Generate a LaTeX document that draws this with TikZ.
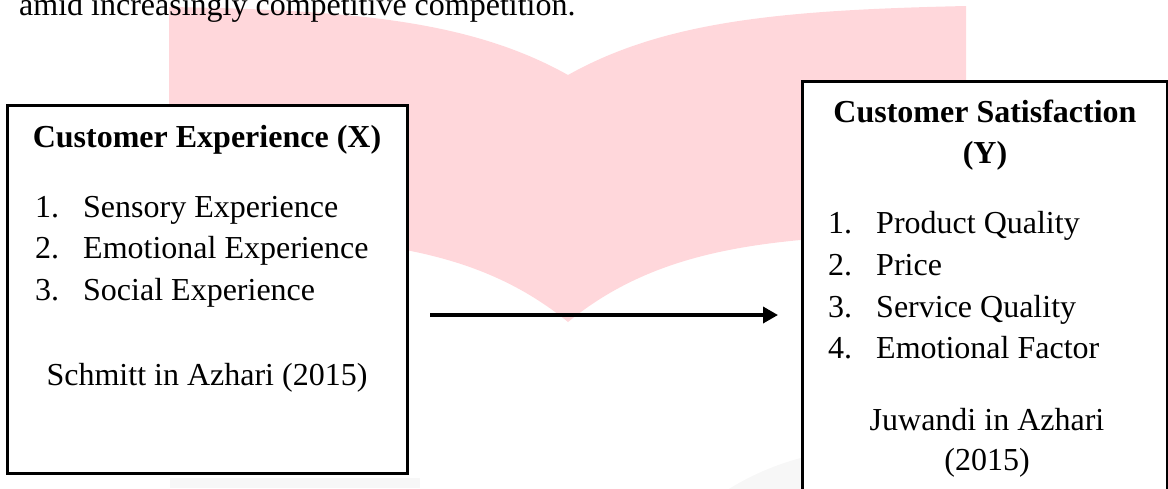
\documentclass[tikz,border=0pt]{standalone}
\usepackage{fontspec}
\setmainfont{Liberation Serif}
\usetikzlibrary{arrows.meta}
\definecolor{wm}{RGB}{255,215,219}
\definecolor{wmgray}{RGB}{247,247,247}
\begin{document}
\begin{tikzpicture}[x=1pt,y=-1pt,
  txt/.style={inner sep=0pt, anchor=base west, font=\fontsize{32}{38}\selectfont},
  ctxt/.style={inner sep=0pt, anchor=base, font=\fontsize{32}{38}\selectfont},
  hd/.style={inner sep=0pt, anchor=base, font=\fontsize{32}{38}\selectfont\bfseries},
  framebox/.style={draw=black, line width=3pt, fill=white, inner sep=0pt},
  flow/.style={line width=3.5pt, -{Triangle[length=15pt,width=16pt]}}]
\useasboundingbox (0,0) rectangle (1168,488);
\clip (0,0) rectangle (1168,488);
% watermark
\fill[wm] (169,7) .. controls (350,10) and (470,20) .. (568,75)
  .. controls (666,20) and (786,10) .. (966,6) -- (966,233)
  .. controls (786,236) and (666,242) .. (568,322)
  .. controls (470,242) and (350,236) .. (169,235) -- cycle;
\fill[wmgray] (170,478) rectangle (420,488);
\fill[wmgray] (870,718) circle (269);
% intro text
\node[txt] (intro) at (19,15) {amid increasingly competitive competition.};
% boxes
\node[framebox, minimum width=400pt, minimum height=368pt] (boxL) at (207,289) {};
\node[framebox, minimum width=365pt, minimum height=460pt, anchor=north west] (boxR) at (801,80) {};
% left box text
\node[hd] (hx) at (207,147) {Customer Experience (X)};
\node[txt] (nx1) at (35,217) {1.};
\node[txt] (ix1) at (83,217) {Sensory Experience};
\node[txt] (nx2) at (35,258) {2.};
\node[txt] (ix2) at (83,258) {Emotional Experience};
\node[txt] (nx3) at (35,300) {3.};
\node[txt] (ix3) at (83,300) {Social Experience};
\node[ctxt] (srcx) at (207,385) {Schmitt in Azhari (2015)};
% right box text
\node[hd] (hy1) at (985,122) {Customer Satisfaction};
\node[hd] (hy2) at (985,163) {(Y)};
\node[txt] (ny1) at (828,233) {1.};
\node[txt] (iy1) at (876,233) {Product Quality};
\node[txt] (ny2) at (828,275) {2.};
\node[txt] (iy2) at (876,275) {Price};
\node[txt] (ny3) at (828,317) {3.};
\node[txt] (iy3) at (876,317) {Service Quality};
\node[txt] (ny4) at (828,358) {4.};
\node[txt] (iy4) at (876,358) {Emotional Factor};
\node[ctxt] (srcy1) at (987,430) {Juwandi in Azhari};
\node[ctxt] (srcy2) at (987,470) {(2015)};
% arrow
\coordinate (arrS) at (430,315);
\coordinate (arrE) at (778,315);
\draw[flow] (arrS) -- (arrE);
\end{tikzpicture}
\end{document}
